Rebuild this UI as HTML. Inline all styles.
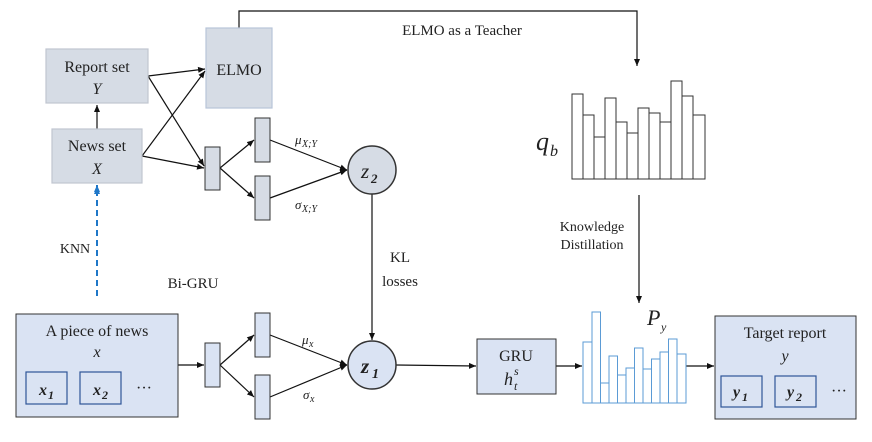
<!DOCTYPE html>
<html><head><style>body{margin:0;background:#fff}svg text{font-family:"Liberation Serif",serif;fill:#222}</style></head><body>
<svg width="872" height="437" viewBox="0 0 872 437" xmlns="http://www.w3.org/2000/svg">
<defs><marker id="a" markerWidth="8" markerHeight="8" refX="7" refY="4" orient="auto" markerUnits="userSpaceOnUse"><path d="M0,1 L7,4 L0,7z" fill="#111"/></marker>
<marker id="b" markerWidth="8" markerHeight="8" refX="7" refY="4" orient="auto" markerUnits="userSpaceOnUse"><path d="M0,1 L7,4 L0,7z" fill="#1f77c8"/></marker></defs>
<g stroke="#111" stroke-width="1.2" fill="none">
<polyline points="239,28 239,11 637,11 637,66" marker-end="url(#a)"/>
<line x1="97" y1="129" x2="97" y2="105" marker-end="url(#a)"/>
<line x1="148" y1="76" x2="205" y2="69" marker-end="url(#a)"/>
<line x1="148" y1="76" x2="204" y2="166" marker-end="url(#a)"/>
<line x1="142" y1="156" x2="205" y2="71" marker-end="url(#a)"/>
<line x1="142" y1="156" x2="204" y2="168" marker-end="url(#a)"/>
<line x1="220" y1="168" x2="254" y2="140" marker-end="url(#a)"/>
<line x1="220" y1="168" x2="254" y2="198" marker-end="url(#a)"/>
<line x1="270" y1="140" x2="347" y2="170" marker-end="url(#a)"/>
<line x1="270" y1="198" x2="347" y2="170" marker-end="url(#a)"/>
<line x1="372" y1="194" x2="372" y2="340" marker-end="url(#a)"/>
<line x1="178" y1="365" x2="204" y2="365" marker-end="url(#a)"/>
<line x1="220" y1="365" x2="254" y2="335" marker-end="url(#a)"/>
<line x1="220" y1="365" x2="254" y2="397" marker-end="url(#a)"/>
<line x1="270" y1="335" x2="347" y2="365" marker-end="url(#a)"/>
<line x1="270" y1="397" x2="347" y2="365" marker-end="url(#a)"/>
<line x1="396" y1="365" x2="476" y2="366" marker-end="url(#a)"/>
<line x1="556" y1="366" x2="582" y2="366" marker-end="url(#a)"/>
<line x1="686" y1="366" x2="714" y2="366" marker-end="url(#a)"/>
<line x1="639" y1="195" x2="639" y2="303" marker-end="url(#a)"/>
<line x1="67" y1="388" x2="79" y2="388" marker-end="url(#a)"/>
<line x1="121" y1="388" x2="133" y2="388" marker-end="url(#a)"/>
<line x1="762" y1="391" x2="774" y2="391" marker-end="url(#a)"/>
<line x1="816" y1="391" x2="828" y2="391" marker-end="url(#a)"/>
</g>
<line x1="97" y1="296" x2="97" y2="187" stroke="#1f77c8" stroke-width="2" stroke-dasharray="6,4" marker-end="url(#b)"/>
<line x1="97" y1="190" x2="97" y2="185" stroke="#1f77c8" stroke-width="2" marker-end="url(#b)"/>
<g fill="#d6dce5" stroke="#c0c6d0" stroke-width="1.2">
<rect x="46" y="49" width="102" height="54"/><rect x="52" y="129" width="90" height="54"/><rect x="206" y="28" width="66" height="80" stroke="#b8c4d8"/>
</g>
<g fill="#d6dce5" stroke="#333" stroke-width="1">
<rect x="205" y="147" width="15" height="43"/><rect x="255" y="118" width="15" height="44"/><rect x="255" y="176" width="15" height="44"/>
<circle cx="372" cy="170" r="24" stroke-width="1.5"/>
</g>
<g fill="#dae3f3" stroke="#333" stroke-width="1">
<rect x="16" y="314" width="162" height="103"/>
<rect x="205" y="343" width="15" height="44"/><rect x="255" y="313" width="15" height="44"/><rect x="255" y="375" width="15" height="44"/>
<circle cx="372" cy="365" r="24" stroke-width="1.5"/>
<rect x="477" y="339" width="79" height="55"/>
<rect x="715" y="316" width="141" height="103"/>
</g>
<g fill="#dae3f3" stroke="#2f5597" stroke-width="1.2">
<rect x="26" y="372" width="41" height="32"/><rect x="80" y="372" width="41" height="32"/>
<rect x="721" y="376" width="41" height="31"/><rect x="775" y="376" width="41" height="31"/>
</g>
<g fill="#fff" stroke="#333" stroke-width="1">
<rect x="572" y="94" width="11" height="85"/><rect x="583" y="115" width="11" height="64"/><rect x="594" y="137" width="11" height="42"/><rect x="605" y="98" width="11" height="81"/><rect x="616" y="122" width="11" height="57"/><rect x="627" y="133" width="11" height="46"/><rect x="638" y="108" width="11" height="71"/><rect x="649" y="113" width="11" height="66"/><rect x="660" y="122" width="11" height="57"/><rect x="671" y="81" width="11" height="98"/><rect x="682" y="96" width="11" height="83"/><rect x="693" y="115" width="12" height="64"/>
</g>
<g fill="#fff" stroke="#5b9bd5" stroke-width="1">
<rect x="583" y="342" width="9" height="61"/><rect x="592" y="312" width="8.5" height="91"/><rect x="600.5" y="383" width="8.5" height="20"/><rect x="609" y="356" width="8.5" height="47"/><rect x="617.5" y="375" width="8.5" height="28"/><rect x="626" y="368" width="8.5" height="35"/><rect x="634.5" y="348" width="8.5" height="55"/><rect x="643" y="369" width="8.5" height="34"/><rect x="651.5" y="359" width="8.5" height="44"/><rect x="660" y="352" width="8.5" height="51"/><rect x="668.5" y="339" width="8.5" height="64"/><rect x="677" y="354" width="9" height="49"/>
</g>
<g font-size="16" text-anchor="middle">
<text x="97" y="72">Report set</text><text x="97" y="94" font-style="italic">Y</text>
<text x="97" y="151">News set</text><text x="97" y="174" font-style="italic">X</text>
<text x="239" y="75">ELMO</text>
<text x="97" y="336">A piece of news</text><text x="97" y="357" font-style="italic">x</text>
<text x="516" y="361">GRU</text>
<text x="785" y="338">Target report</text><text x="785" y="361" font-style="italic">y</text>
<text x="462" y="35" font-size="15">ELMO as a Teacher</text>
<text x="592" y="231" font-size="14">Knowledge</text><text x="592" y="249" font-size="14">Distillation</text>
<text x="75" y="253" font-size="14">KNN</text>
<text x="193" y="288" font-size="15">Bi-GRU</text>
<text x="400" y="262" font-size="15">KL</text><text x="400" y="286" font-size="15">losses</text>
</g>
<g font-style="italic">
<text x="361" y="178" font-size="21">z</text><text x="371" y="183" font-size="13" font-weight="bold">2</text>
<text x="361" y="373" font-size="21" font-weight="bold">z</text><text x="372" y="378" font-size="14" font-weight="bold">1</text>
<text x="295" y="144" font-size="13">μ</text><text x="302" y="147" font-size="10">X;Y</text>
<text x="295" y="209" font-size="13">σ</text><text x="302" y="212" font-size="10">X;Y</text>
<text x="302" y="344" font-size="13">μ</text><text x="309" y="347" font-size="10">x</text>
<text x="303" y="399" font-size="13">σ</text><text x="310" y="402" font-size="10">x</text>
<text x="536" y="150" font-size="26">q</text><text x="550" y="156" font-size="16">b</text>
<text x="647" y="325" font-size="22">P</text><text x="661" y="331" font-size="12">y</text>
<text x="504" y="385" font-size="18">h</text><text x="514" y="390" font-size="12">t</text><text x="514" y="375" font-size="12">s</text>
<g font-weight="bold"><text x="39" y="395" font-size="16">x</text><text x="48" y="399" font-size="12">1</text>
<text x="93" y="395" font-size="16">x</text><text x="102" y="399" font-size="12">2</text>
<text x="733" y="397" font-size="16">y</text><text x="742" y="401" font-size="12">1</text>
<text x="787" y="397" font-size="16">y</text><text x="796" y="401" font-size="12">2</text></g>
</g>
<text x="136" y="393" font-size="16">···</text><text x="831" y="396" font-size="16">···</text>
</svg>
</body></html>
